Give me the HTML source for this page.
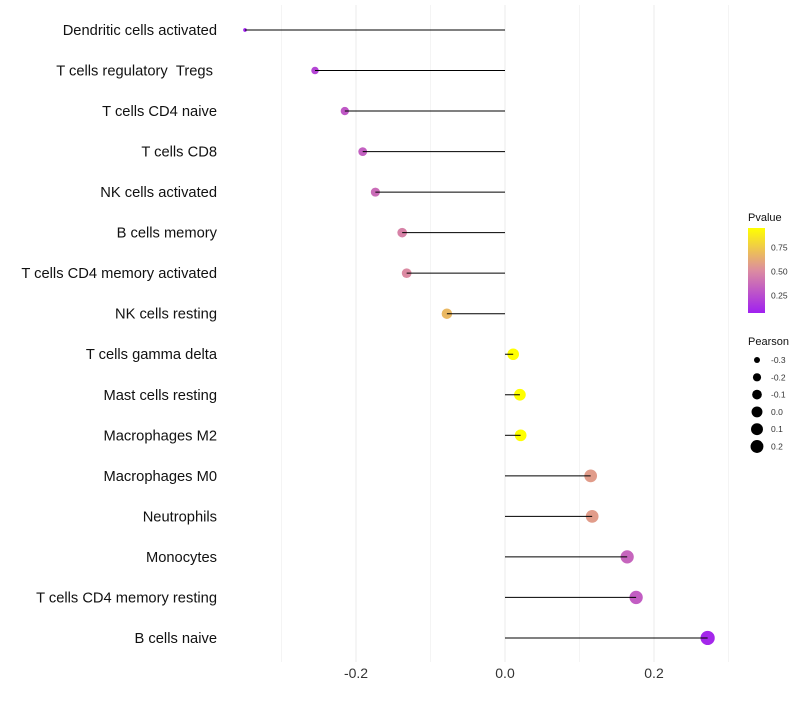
<!DOCTYPE html>
<html><head><meta charset="utf-8"><style>
body{margin:0;background:#fff;font-family:"Liberation Sans",sans-serif}
</style></head><body>
<svg id="chart" width="800" height="700" xmlns="http://www.w3.org/2000/svg">
<g id="grid"></g>
<g id="marks"></g>
<g id="labels"></g>
<g id="xticks"></g>
<g id="legend"></g>
</svg>
<script>
const categories=["Dendritic cells activated","T cells regulatory \u00a0Tregs\u00a0","T cells CD4 naive","T cells CD8","NK cells activated","B cells memory","T cells CD4 memory activated","NK cells resting","T cells gamma delta","Mast cells resting","Macrophages M2","Macrophages M0","Neutrophils","Monocytes","T cells CD4 memory resting","B cells naive"];
const pearson=[-0.349,-0.255,-0.215,-0.191,-0.174,-0.138,-0.132,-0.078,0.011,0.020,0.021,0.115,0.117,0.164,0.176,0.272];
const pvalue=[0.05,0.22,0.3,0.33,0.38,0.47,0.5,0.68,0.95,0.95,0.95,0.57,0.57,0.35,0.32,0.1];
const xTicks=[-0.2,0.0,0.2];
const xMinor=[-0.3,-0.1,0.1,0.3];
const pTicks=[0.25,0.5,0.75];
const sizeTicks=[-0.3,-0.2,-0.1,0.0,0.1,0.2];

const NS="http://www.w3.org/2000/svg";
const x=v=>505+v*745;
const y=i=>30+i*40.53;
const rad=v=>1.6+Math.sqrt(Math.max(0,(v+0.35)/0.62))*5.5;
function lerp(a,b,t){return a.map((c,i)=>Math.round(c+(b[i]-c)*t));}
function col(p){
  const lo=[160,32,240],mid=[220,140,160],hi=[255,255,0];
  const t=Math.max(0,Math.min(1,(p-0.07)/0.88));
  const c=t<0.5?lerp(lo,mid,t/0.5):lerp(mid,hi,(t-0.5)/0.5);
  return `rgb(${c.join(",")})`;
}
function mk(tag,attrs,parent,text){const e=document.createElementNS(NS,tag);for(const k in attrs)e.setAttribute(k,attrs[k]);if(text!==undefined)e.textContent=text;document.getElementById(parent).appendChild(e);return e;}

xTicks.forEach(t=>{
  const l=mk("line",{x1:x(t),x2:x(t),y1:5,y2:662,stroke:"#ebebeb","stroke-width":1},"grid");
  
  
  const tx=mk("text",{x:x(t),y:678,"text-anchor":"middle","font-size":14,fill:"#333"},"xticks",t.toFixed(1));
  
  
});
xMinor.forEach(t=>{
  const l=mk("line",{x1:x(t),x2:x(t),y1:5,y2:662,stroke:"#f4f4f4","stroke-width":1},"grid");
  
  
});
categories.forEach((c,i)=>{
  const lb=mk("text",{x:217,y:y(i)+5,"text-anchor":"end","font-size":14.7,fill:"#111"},"labels",c);
  
  
  const pt=mk("circle",{cx:x(pearson[i]),cy:y(i),r:rad(pearson[i]),fill:col(pvalue[i])},"marks");
  
  
  const ln=mk("line",{x1:x(0),x2:x(pearson[i]),y1:y(i),y2:y(i),stroke:"#000","stroke-width":1},"marks");
  
  
});
const defs=mk("defs",{},"legend");
const g=document.createElementNS(NS,"linearGradient");g.setAttribute("id","pg");g.setAttribute("x1","0");g.setAttribute("y1","1");g.setAttribute("x2","0");g.setAttribute("y2","0");defs.appendChild(g);
[0,0.25,0.5,0.75,1].forEach(s=>{const st=document.createElementNS(NS,"stop");st.setAttribute("offset",s);st.setAttribute("stop-color",col(0.07+s*0.88));g.appendChild(st);});
const lt=mk("text",{x:748,y:221,"font-size":11,fill:"#111"},"legend","Pvalue");


const bar=mk("rect",{x:748,y:228,width:17,height:85,fill:"url(#pg)"},"legend");


const py=p=>313-(p-0.07)/0.88*85;
pTicks.forEach(p=>{
  const t=mk("text",{x:771,y:py(p)+3,"font-size":8.5,fill:"#333"},"legend",p.toFixed(2));
  
  
});
const st=mk("text",{x:748,y:345,"font-size":11,fill:"#111"},"legend","Pearson");


sizeTicks.forEach((v,i)=>{
  const cy=360+i*17.3;
  const c=mk("circle",{cx:757,cy:cy,r:rad(v)*0.95,fill:"#000"},"legend");
  
  
  const t=mk("text",{x:771,y:cy+3,"font-size":8.5,fill:"#333"},"legend",v.toFixed(1));
  
  
});
</script>
</body></html>
